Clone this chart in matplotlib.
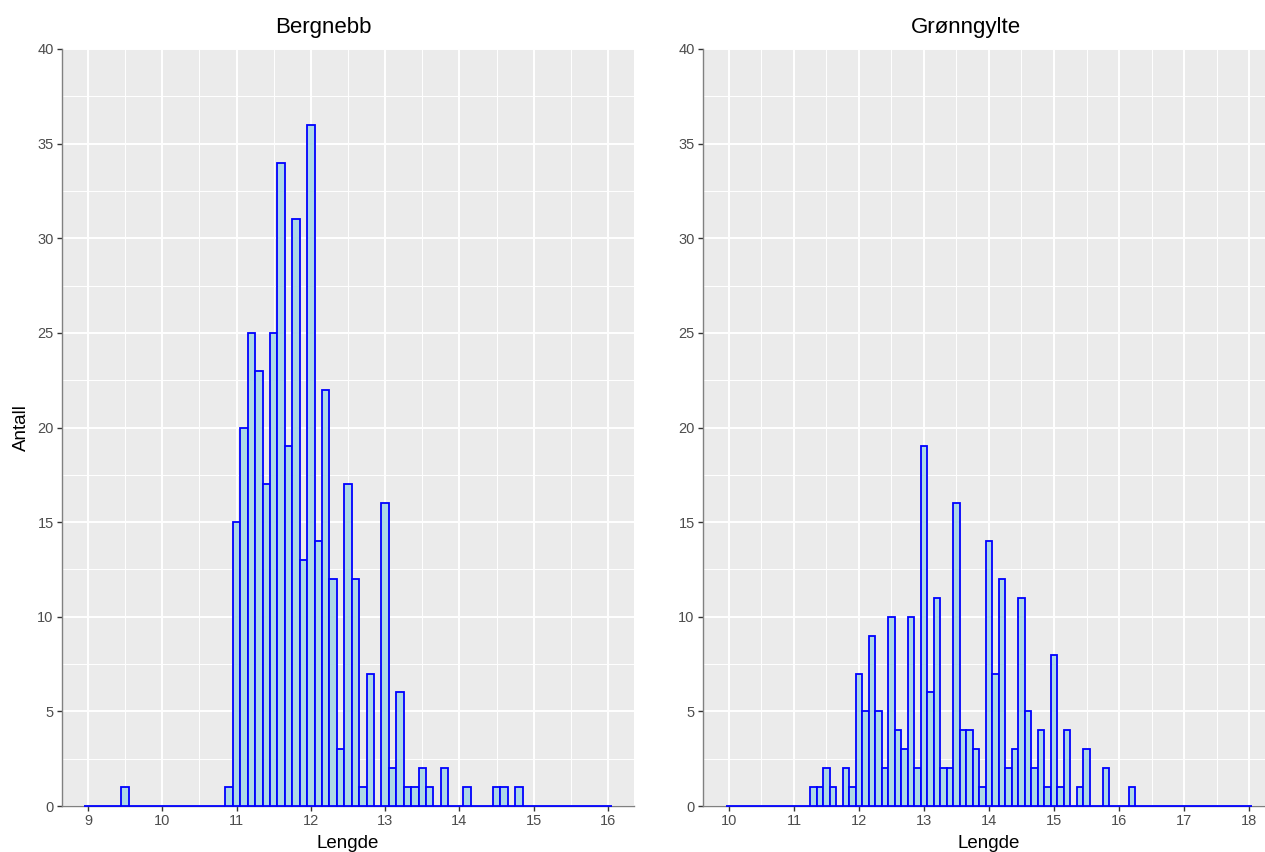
import matplotlib
matplotlib.use("Agg")
import matplotlib.pyplot as plt
import numpy as np
from matplotlib.ticker import MultipleLocator

plt.rcParams['font.family'] = ['Liberation Sans', 'DejaVu Sans']

# ---- data (bin centres in cm, bin width 0.1) ----
titles = ["Bergnebb", "Grønngylte"]

berg_len = [9.5, 10.9, 11.0, 11.1, 11.2, 11.3, 11.4, 11.5, 11.6, 11.7, 11.8, 11.9,
            12.0, 12.1, 12.2, 12.3, 12.4, 12.5, 12.6, 12.7, 12.8, 13.0, 13.1, 13.2,
            13.3, 13.4, 13.5, 13.6, 13.8, 14.1, 14.5, 14.6, 14.8]
berg_cnt = [1, 1, 15, 20, 25, 23, 17, 25, 34, 19, 31, 13,
            36, 14, 22, 12, 3, 17, 12, 1, 7, 16, 2, 6,
            1, 1, 2, 1, 2, 1, 1, 1, 1]

gron_len = [11.3, 11.4, 11.5, 11.6, 11.8, 11.9, 12.0, 12.1, 12.2, 12.3, 12.4, 12.5,
            12.6, 12.7, 12.8, 12.9, 13.0, 13.1, 13.2, 13.3, 13.4, 13.5, 13.6, 13.7,
            13.8, 13.9, 14.0, 14.1, 14.2, 14.3, 14.4, 14.5, 14.6, 14.7, 14.8, 14.9,
            15.0, 15.1, 15.2, 15.4, 15.5, 15.8, 16.2]
gron_cnt = [1, 1, 2, 1, 2, 1, 7, 5, 9, 5, 2, 10,
            4, 3, 10, 2, 19, 6, 11, 2, 2, 16, 4, 4,
            3, 1, 14, 7, 12, 2, 3, 11, 5, 2, 4, 1,
            8, 1, 4, 1, 3, 2, 1]

berg_range = (9.0, 16.0)
gron_range = (10.0, 18.0)
binwidth = 0.1

y_max = 40

# ---- style ----
panel_bg = "#EBEBEB"
fill_col = "#ADD8E6"
edge_col = "#0000FF"

fig = plt.figure(figsize=(12.65, 8.52), dpi=100)
W, H = 1265, 852
ax_left = fig.add_axes([62 / W, 46 / H, 572 / W, 757 / H])
ax_right = fig.add_axes([703 / W, 46 / H, 572 / W, 757 / H])
title_x = [323 / W, 966 / W]

datasets = [
    (ax_left, berg_len, berg_cnt, berg_range),
    (ax_right, gron_len, gron_cnt, gron_range),
]

for i, (ax, lens, cnts, rng) in enumerate(datasets):
    lo, hi = rng
    n = int(round((hi - lo) / binwidth)) + 1
    centres = np.round(lo + binwidth * np.arange(n), 1)
    lookup = dict(zip(np.round(lens, 1), cnts))
    counts = np.array([lookup.get(c, 0) for c in centres])

    ax.set_facecolor(panel_bg)
    ax.bar(centres, counts, width=binwidth, facecolor=fill_col,
           edgecolor=edge_col, linewidth=1.3, zorder=3, clip_on=False)

    span = hi - lo
    ax.set_xlim(lo - 0.05 * span, hi + 0.05 * span)
    ax.set_ylim(0, y_max)

    ax.xaxis.set_major_locator(MultipleLocator(1))
    ax.xaxis.set_minor_locator(MultipleLocator(0.5))
    ax.yaxis.set_major_locator(MultipleLocator(5))
    ax.yaxis.set_minor_locator(MultipleLocator(2.5))

    ax.grid(which="major", color="white", linewidth=1.4, zorder=0)
    ax.grid(which="minor", color="white", linewidth=0.7, zorder=0)
    ax.set_axisbelow(True)

    for s in ["top", "right"]:
        ax.spines[s].set_visible(False)
    for s in ["left", "bottom"]:
        ax.spines[s].set_color("#808080")
        ax.spines[s].set_linewidth(1.0)
        ax.spines[s].set_zorder(2)

    ax.tick_params(which="major", length=3.5, width=1.0, color="#333333",
                   labelsize=10.5, labelcolor="#4D4D4D", pad=2.5)
    ax.tick_params(which="minor", length=0)

    fig.text(title_x[i], 1 - 27 / H, titles[i], fontsize=16, color="black",
             ha="center", va="center")
    ax.set_xlabel("Lengde", fontsize=13.5, labelpad=5)
    if i == 0:
        ax.set_ylabel("Antall", fontsize=13.5, labelpad=5)

fig.savefig("out.png", dpi=100)
